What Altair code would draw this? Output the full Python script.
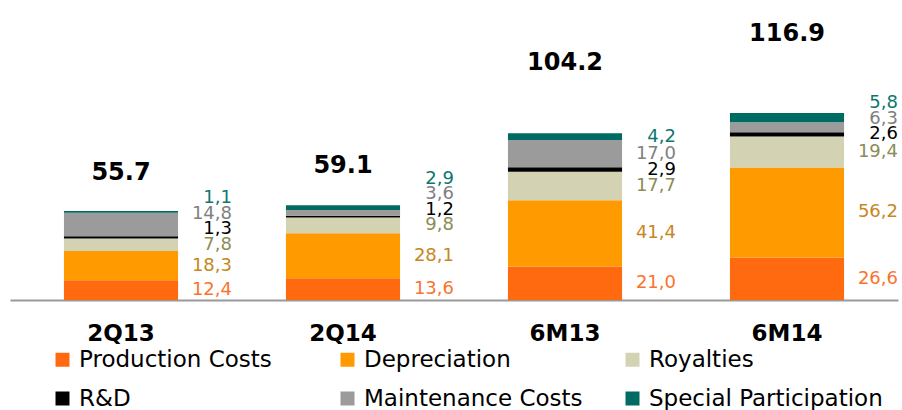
import altair as alt
import pandas as pd

categories = ["2Q13", "2Q14", "6M13", "6M14"]
series = ["Production Costs", "Depreciation", "Royalties", "R&D",
          "Maintenance Costs", "Special Participation"]
production = [12.4, 13.6, 21.0, 26.6]
depreciation = [18.3, 28.1, 41.4, 56.2]
royalties = [7.8, 9.8, 17.7, 19.4]
rnd = [1.3, 1.2, 2.9, 2.6]
maintenance = [14.8, 3.6, 17.0, 6.3]
special = [1.1, 2.9, 4.2, 5.8]
totals = [55.7, 59.1, 104.2, 116.9]

bar_colors = ["#FF6A10", "#FF9A00", "#D3D3B4", "#000000", "#9B9B9B", "#006B63"]
label_colors = ["#F8742E", "#C8861E", "#8C8C55", "#000000", "#7F7F7F", "#0E766E"]

FONT = "DejaVu Sans"
PX_PER_UNIT = 1.6
MIN_GAP = 15.5 / PX_PER_UNIT  # minimum label spacing, in data units

values_by_series = [production, depreciation, royalties, rnd, maintenance, special]
rows = []
for ci, cat in enumerate(categories):
    base = 0.0
    prev_label = None
    for si, name in enumerate(series):
        v = values_by_series[si][ci]
        y0, y1 = base, base + v
        mid = (y0 + y1) / 2
        ly = mid if prev_label is None else max(mid, prev_label + MIN_GAP)
        prev_label = ly
        rows.append({
            "cat": cat, "series": name, "order": si, "value": v,
            "y0": y0, "y1": y1, "label_y": ly,
            "label": f"{v:.1f}".replace(".", ","),
            "label_color": label_colors[si],
        })
        base = y1
df = pd.DataFrame(rows)

tot_df = pd.DataFrame({
    "cat": categories,
    "total": totals,
    "label": [f"{t:.1f}" for t in totals],
})

x_enc = alt.X(
    "cat:N", sort=categories,
    scale=alt.Scale(paddingInner=0.486, paddingOuter=0.243),
    axis=alt.Axis(title=None, labelAngle=0, labelFont=FONT, labelFontSize=23,
                  labelFontWeight="bold", labelColor="#000000", ticks=False,
                  tickSize=0, domainColor="#999999", domainWidth=2,
                  labelBaseline="middle", labelPadding=33),
)
y_scale = alt.Scale(domain=[0, 300 / PX_PER_UNIT], nice=False, zero=True)

bars = alt.Chart(df).mark_bar(stroke=None).encode(
    x=x_enc,
    y=alt.Y("y0:Q", scale=y_scale, axis=None),
    y2="y1:Q",
    color=alt.Color(
        "series:N",
        scale=alt.Scale(domain=series, range=bar_colors),
        legend=alt.Legend(
            title=None, orient="none", legendX=41, legendY=348, columns=3,
            direction="horizontal",
            symbolType="square", symbolSize=196, symbolStrokeWidth=0,
            symbolOpacity=1, labelFont=FONT, labelFontSize=23,
            labelColor="#000000", labelOffset=5, columnPadding=23,
            rowPadding=15, gridAlign="all", labelLimit=400, padding=0,
        ),
    ),
    order="order:Q",
)

seg_labels = alt.Chart(df).mark_text(
    align="right", baseline="middle", dx=111, font=FONT, fontSize=18
).encode(
    x=alt.X("cat:N", sort=categories),
    y=alt.Y("label_y:Q", scale=y_scale),
    text="label:N",
    color=alt.Color("label_color:N", scale=None),
)

total_labels = alt.Chart(tot_df).transform_calculate(
    pos="datum.total * 1.42"
).mark_text(
    align="center", baseline="middle", font=FONT, fontSize=24,
    fontWeight="bold", color="#000000"
).encode(
    x=alt.X("cat:N", sort=categories),
    y=alt.Y("pos:Q", scale=y_scale),
    text="label:N",
)

chart = alt.layer(bars, seg_labels, total_labels).properties(
    width=888, height=300,
    autosize=alt.AutoSizeParams(type="none"),
    padding={"left": 10, "right": 4, "top": 0, "bottom": 110},
    background="#ffffff",
).configure_view(stroke=None)

chart.save("out.html", embed_options={"renderer": "svg", "actions": False})
